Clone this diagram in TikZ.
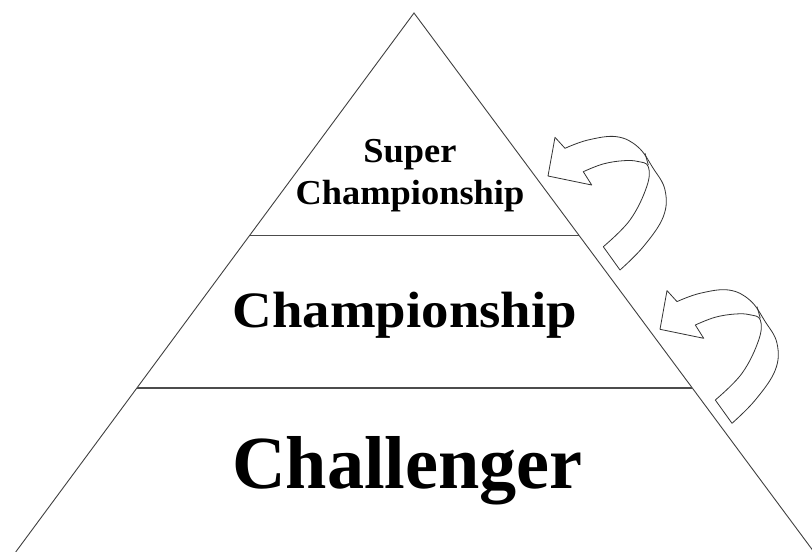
\documentclass[tikz,border=0pt]{standalone}
\usepackage{fontspec}
\setmainfont{Liberation Serif}
\usetikzlibrary{calc}
\begin{document}
\begin{tikzpicture}[x=1pt,y=-1pt,
  side/.style={draw=black!75,line width=0.9pt},
  divider/.style={draw=black!70,line width=1.3pt},
  curlarrow/.style={draw=black!80,line width=0.8pt,line join=round},
  label/.style={inner sep=0pt,font=\bfseries}]
\clip (0,0) rectangle (812,552);
\fill[white] (0,0) rectangle (812,552);
% pyramid
\coordinate (apex) at (414,13);
\coordinate (bl) at (15.7,552);
\coordinate (br) at (814,552);
\draw[side] (bl) -- (apex) -- (br);
\coordinate (d1l) at ($(apex)!0.4128!(bl)$);
\coordinate (d1r) at ($(apex)!0.4128!(br)$);
\coordinate (d2l) at ($(apex)!0.6957!(bl)$);
\coordinate (d2r) at ($(apex)!0.6957!(br)$);
\draw[divider] (d1l) -- (d1r);
\draw[divider] (d2l) -- (d2r);
% labels
\node[label,anchor=north,align=center,xscale=1.04,
  font=\bfseries\fontsize{35}{42}\selectfont] (super) at (410,139) {Super\\Championship};
\node[label,anchor=base,xscale=1.075,
  font=\bfseries\fontsize{51}{56}\selectfont] (champ) at (405,327) {Championship};
\node[label,anchor=base,xscale=0.99,
  font=\bfseries\fontsize{75}{80}\selectfont] (chall) at (407.5,488) {Challenger};
% curled arrows
\foreach \dx/\dy in {548/176, 660/329.3}{
\begin{scope}[shift={(\dx,\dy)}]
  \draw[curlarrow] (0,0) -- (7,-38.7) -- (17,-27.7)
    -- plot[smooth,tension=0.65] coordinates {(17,-27.7) (40,-36) (68.7,-39.3) (90,-29) (105,-8) (117,14) (115.3,40.7) (95.3,70.7) (72,94)}
    -- (55.3,70.7)
    -- plot[smooth,tension=0.65] coordinates {(55.3,70.7) (82,44) (98.7,10.7) (100.3,-9.3) (90,-14.5) (75.3,-15.3) (55,-12) (35.3,-4.3)}
    -- (43.7,9) -- cycle;
  \draw[curlarrow] (100.3,-11) -- (97,-22.7);
\end{scope}}
\end{tikzpicture}
\end{document}
